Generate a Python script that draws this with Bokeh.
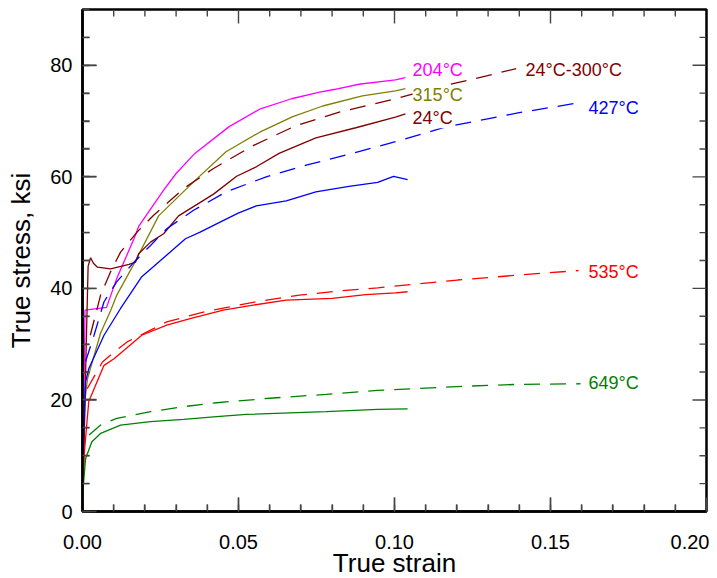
from bokeh.plotting import figure
from bokeh.models import (ColumnDataSource, LabelSet, SingleIntervalTicker, Range1d,
                          NumeralTickFormatter)
from bokeh.core.properties import value
from bokeh.embed import file_html
from bokeh.resources import INLINE

# ---- data (true strain, true stress ksi) ----
s204_x = [0, 0.0008, 0.0077, 0.011, 0.0165, 0.018, 0.026, 0.030, 0.036, 0.047, 0.057, 0.067, 0.076, 0.081, 0.0886, 0.1003, 0.1035]
s204_y = [0, 36.1, 36.6, 41.8, 48.9, 51.1, 57.6, 60.6, 64.2, 69.0, 72.2, 74.0, 75.2, 75.7, 76.6, 77.4, 77.8]

s315_x = [0, 0.0008, 0.0016, 0.0058, 0.009, 0.011, 0.0165, 0.0244, 0.0356, 0.046, 0.0568, 0.0674, 0.077, 0.0897, 0.1003, 0.1035]
s315_y = [0, 20.0, 23.8, 32.0, 36.0, 38.8, 44.4, 53.0, 59.1, 64.5, 68.0, 70.8, 72.7, 74.5, 75.4, 75.8]

s24_x = [0, 0.0012, 0.0018, 0.0026, 0.0035, 0.0048, 0.009, 0.0149, 0.017, 0.018, 0.0218, 0.026, 0.0308, 0.042, 0.0494, 0.0557, 0.063, 0.0748, 0.0876, 0.1003, 0.1035]
s24_y = [0, 30.0, 44.0, 45.5, 44.5, 43.8, 43.5, 44.3, 44.7, 46.2, 48.3, 49.8, 53.0, 56.9, 60.1, 61.8, 64.2, 67.0, 68.8, 70.7, 71.3]

s427_x = [0, 0.0004, 0.001, 0.002, 0.0069, 0.0122, 0.019, 0.025, 0.033, 0.0377, 0.042, 0.0499, 0.0557, 0.0653, 0.0748, 0.0854, 0.0946, 0.0997, 0.1042]
s427_y = [0, 15.0, 23.3, 25.6, 31.6, 36.4, 42.1, 45.0, 48.9, 50.1, 51.3, 53.5, 54.8, 55.7, 57.3, 58.3, 59.0, 60.1, 59.5]

s535_x = [0, 0.0005, 0.002, 0.0069, 0.0101, 0.019, 0.027, 0.0345, 0.0451, 0.0547, 0.0653, 0.080, 0.0908, 0.1003, 0.1042]
s535_y = [0, 10.0, 19.7, 26.2, 27.4, 31.6, 33.4, 34.6, 36.1, 37.0, 37.9, 38.2, 38.9, 39.2, 39.4]

s649_x = [0, 0.0003, 0.001, 0.003, 0.0058, 0.0122, 0.0218, 0.0324, 0.043, 0.0525, 0.078, 0.0946, 0.1042]
s649_y = [0, 5.0, 9.5, 12.5, 14.0, 15.5, 16.1, 16.5, 17.0, 17.4, 17.9, 18.3, 18.4]

# model (dashed) curves
m24_300_x = [0.0025, 0.0058, 0.009, 0.0122, 0.0175, 0.0228, 0.0324, 0.042, 0.0547, 0.0685, 0.0823, 0.1003, 0.115, 0.1295, 0.139]
m24_300_y = [31.6, 38.8, 43.0, 46.5, 50.1, 53.1, 57.9, 61.5, 65.6, 69.2, 71.6, 74.0, 76.2, 78.1, 79.4]

m427_x = [0.001, 0.0037, 0.0069, 0.011, 0.0165, 0.0218, 0.027, 0.0356, 0.046, 0.0589, 0.0717, 0.0865, 0.1003, 0.1162, 0.14, 0.1603]
m427_y = [26.9, 31.6, 37.6, 41.2, 44.7, 47.7, 50.7, 54.0, 57.3, 60.0, 62.1, 64.2, 66.3, 68.9, 71.5, 73.4]

m535_x = [0.0015, 0.0064, 0.0101, 0.0143, 0.0207, 0.027, 0.0398, 0.0547, 0.0695, 0.0854, 0.0946, 0.1202, 0.14, 0.159]
m535_y = [22.0, 26.8, 28.6, 30.4, 32.2, 34.0, 35.9, 37.5, 38.8, 39.7, 40.1, 41.5, 42.4, 43.2]

m649_x = [0.0021, 0.0058, 0.011, 0.0218, 0.0324, 0.043, 0.06, 0.078, 0.0946, 0.12, 0.14, 0.1596]
m649_y = [13.7, 15.5, 16.7, 17.9, 18.8, 19.5, 20.3, 21.0, 21.7, 22.4, 22.8, 22.9]

label_text = ["204°C", "315°C", "24°C", "24°C-300°C", "427°C", "535°C", "649°C"]
label_x = [0.1058, 0.1058, 0.1058, 0.142, 0.1622, 0.1622, 0.1622]
label_y = [79.1, 74.6, 70.5, 79.1, 72.3, 43.0, 23.0]
label_color = ["#FF00FF", "#808000", "#800000", "#800000", "#0000FF", "#FF0000", "#008000"]

# tick positions (ticks are drawn inward on all four sides of the frame)
x_major_ticks = [0.05, 0.10, 0.15]
x_minor_ticks = [0.01, 0.02, 0.03, 0.04, 0.06, 0.07, 0.08, 0.09, 0.11, 0.12, 0.13, 0.14, 0.16, 0.17, 0.18, 0.19]
y_major_ticks = [20, 40, 60, 80]
y_minor_ticks = [5, 10, 15, 25, 30, 35, 45, 50, 55, 65, 70, 75, 85]

X_MIN, X_MAX, Y_MIN, Y_MAX = 0.0, 0.2, 0.0, 90
FRAME_W, FRAME_H = 624, 502
FONT = "Liberation Sans"
TICK_COLOR = "#444444"
TICK_W = 1.4
MAJOR_LEN, MINOR_LEN = 14, 7   # pixels

p = figure(output_backend="svg", toolbar_location=None,
           width=709, height=581,
           min_border_left=82, min_border_right=3, min_border_top=9, min_border_bottom=70,
           x_range=Range1d(X_MIN, X_MAX), y_range=Range1d(Y_MIN, Y_MAX),
           x_axis_label="True strain", y_axis_label="True stress, ksi")
p.xgrid.visible = False
p.ygrid.visible = False
p.outline_line_color = "black"
p.outline_line_width = 2.5
p.background_fill_color = "white"
p.border_fill_color = "white"

p.xaxis.ticker = SingleIntervalTicker(interval=0.05, num_minor_ticks=5)
p.yaxis.ticker = SingleIntervalTicker(interval=20, num_minor_ticks=4)
p.xaxis.formatter = NumeralTickFormatter(format="0.00")

for ax in (p.xaxis[0], p.yaxis[0]):
    ax.axis_line_color = "black"
    ax.axis_line_width = 2.5
    ax.major_tick_in = MAJOR_LEN
    ax.major_tick_out = 0
    ax.minor_tick_in = MINOR_LEN
    ax.minor_tick_out = 0
    ax.major_tick_line_color = TICK_COLOR
    ax.minor_tick_line_color = TICK_COLOR
    ax.major_tick_line_width = TICK_W
    ax.minor_tick_line_width = TICK_W
    ax.major_label_text_font = FONT
    ax.major_label_text_font_size = "20px"
    ax.major_label_text_color = "black"
    ax.axis_label_text_font = FONT
    ax.axis_label_text_font_size = "26px"
    ax.axis_label_text_font_style = "normal"
    ax.axis_label_text_color = "black"

p.xaxis.major_label_standoff = 23
p.xaxis.axis_label_standoff = -4
p.yaxis.major_label_standoff = 10
p.yaxis.axis_label_standoff = 11

# inward tick marks on all four frame edges (pixel lengths converted to data units)
dx_per_px = (X_MAX - X_MIN) / FRAME_W
dy_per_px = (Y_MAX - Y_MIN) / FRAME_H


def v_ticks(xs, length):
    n = len(xs)
    d = length * dy_per_px
    x = list(xs) + list(xs)
    y0 = [Y_MIN] * n + [Y_MAX] * n
    y1 = [Y_MIN + d] * n + [Y_MAX - d] * n
    p.segment(x0=x, y0=y0, x1=x, y1=y1, line_color=TICK_COLOR, line_width=TICK_W)


def h_ticks(ys, length):
    n = len(ys)
    d = length * dx_per_px
    y = list(ys) + list(ys)
    x0 = [X_MIN] * n + [X_MAX] * n
    x1 = [X_MIN + d] * n + [X_MAX - d] * n
    p.segment(x0=x0, y0=y, x1=x1, y1=y, line_color=TICK_COLOR, line_width=TICK_W)


v_ticks(x_major_ticks, MAJOR_LEN)
v_ticks(x_minor_ticks, MINOR_LEN)
h_ticks(y_major_ticks, MAJOR_LEN)
h_ticks(y_minor_ticks, MINOR_LEN)

LW = 1.3
DASH = "16 10"
p.line(s204_x, s204_y, line_color="#FF00FF", line_width=LW)
p.line(s315_x, s315_y, line_color="#808000", line_width=LW)
p.line(s24_x, s24_y, line_color="#800000", line_width=LW)
p.line(s427_x, s427_y, line_color="#0000FF", line_width=LW)
p.line(s535_x, s535_y, line_color="#FF0000", line_width=LW)
p.line(s649_x, s649_y, line_color="#008000", line_width=LW)

p.line(m24_300_x, m24_300_y, line_color="#800000", line_width=LW, line_dash=DASH)
p.line(m427_x, m427_y, line_color="#0000FF", line_width=LW, line_dash=DASH)
p.line(m535_x, m535_y, line_color="#FF0000", line_width=LW, line_dash=DASH)
p.line(m649_x, m649_y, line_color="#008000", line_width=LW, line_dash=DASH)

src = ColumnDataSource(dict(x=label_x, y=label_y, text=label_text, color=label_color))
labels = LabelSet(x="x", y="y", text="text", source=src, text_color="color",
                  text_font=value(FONT), text_font_size=value("18px"),
                  text_baseline="middle", text_align="left",
                  background_fill_color="white")
p.add_layout(labels)

open("out.html", "w").write(file_html(p, INLINE))
